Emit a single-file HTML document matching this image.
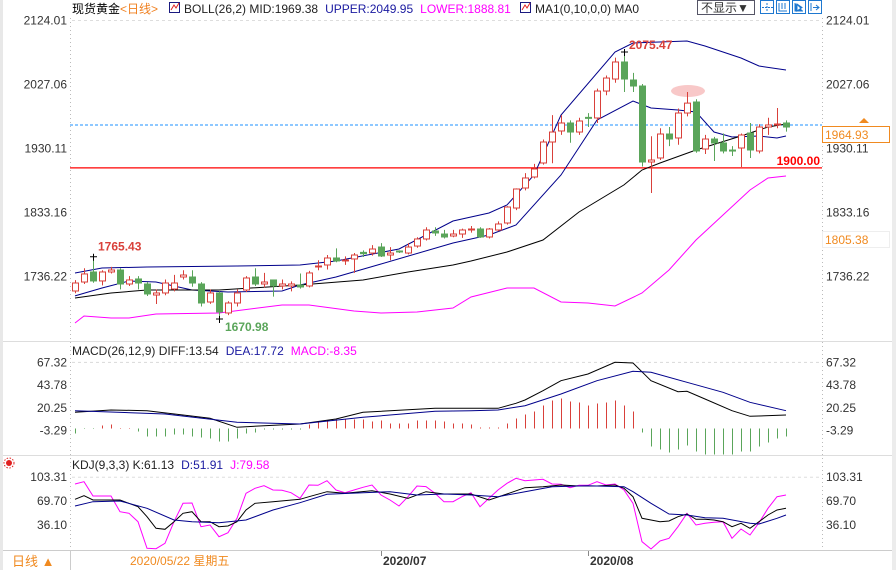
<!DOCTYPE html>
<html><head><meta charset="utf-8"><style>
html,body{margin:0;padding:0;background:#fff;}
svg{display:block;font-family:"Liberation Sans","Noto Sans CJK SC",sans-serif;}
</style></head><body>
<svg id="chart" width="896" height="570" viewBox="0 0 896 570" xmlns="http://www.w3.org/2000/svg">
<rect x="0" y="0" width="896" height="570" fill="#fff"/>
<rect x="0" y="0" width="3" height="570" fill="#e8e8e8"/>
<rect x="892" y="0" width="4" height="570" fill="#ececec"/>
<line x1="70.5" y1="18" x2="70.5" y2="550" stroke="#bbb" stroke-dasharray="1,3"/>
<line x1="822.5" y1="18" x2="822.5" y2="550" stroke="#bbb" stroke-dasharray="1,3"/>
<line x1="3" y1="341.5" x2="892" y2="341.5" stroke="#ddd"/>
<line x1="3" y1="455.5" x2="892" y2="455.5" stroke="#ddd"/>
<line x1="3" y1="550.5" x2="892" y2="550.5" stroke="#ccc"/>
<line x1="70.5" y1="550" x2="70.5" y2="570" stroke="#ccc"/>
<g id="grid"></g>
<g id="main"></g>
<g id="macd"></g>
<g id="kdj"></g>
<!-- title row -->
<text x="72" y="13" font-size="12"><tspan fill="#000">现货黄金</tspan><tspan fill="#f08020">&lt;日线&gt;</tspan></text>
<rect x="169.5" y="2.5" width="10" height="10" fill="#fff" stroke="#1a1a80"/>
<polyline points="171,10 174,5 176,8 179,3" fill="none" stroke="#e02020"/>
<text x="184" y="13" font-size="12"><tspan fill="#222">BOLL(26,2) MID:1969.38</tspan><tspan fill="#1a1aa0" dx="7">UPPER:2049.95</tspan><tspan fill="#ff00ff" dx="7">LOWER:1888.81</tspan></text>
<rect x="520.5" y="2.5" width="10" height="10" fill="#fff" stroke="#1a1a80"/>
<polyline points="522,10 525,5 527,8 530,3" fill="none" stroke="#e02020"/>
<text x="535" y="13" font-size="12" fill="#222">MA1(0,10,0,0) MA0</text>
<g><rect x="697.5" y="0.5" width="57" height="14" fill="#fff" stroke="#556"/><text x="701" y="12" font-size="12" fill="#333">不显示▼</text></g>
<g><rect x="760.5" y="0.5" width="13" height="13" fill="#fff" stroke="#1e78d0"/><path d="M767 3v9M762 7.5h11" stroke="#1e78d0" stroke-dasharray="2,1"/></g>
<g><rect x="776.5" y="0.5" width="13" height="13" fill="#fff" stroke="#1e78d0"/><path d="M779 3v8h8M782 3v6M785 3v6" stroke="#1e78d0" fill="none"/></g>
<g><rect x="792.5" y="0.5" width="13" height="13" fill="#fff" stroke="#1e78d0"/><path d="M795 3v8h8M797 4l5 3.5-5 3.5z" stroke="#1e78d0" fill="#1e78d0"/></g>
<g><rect x="808.5" y="0.5" width="13" height="13" fill="#fff" stroke="#1e78d0"/><path d="M811 3v8M813 7.5h6M816 5l3 2.5-3 2.5" stroke="#1e78d0" fill="none"/></g>
<!-- price tags -->
<rect x="822.5" y="126.5" width="67" height="16" fill="#fff" stroke="#f08a20"/>
<text x="825" y="139" font-size="12" fill="#f08a20">1964.93</text>
<path d="M859 123l5-5 5 5z" fill="#f08a20"/>
<rect x="822.5" y="231.5" width="67" height="16" fill="#fff" stroke="#eee"/>
<text x="825" y="244" font-size="12" fill="#f08a20">1805.38</text>
<!-- sub headers -->
<text x="72" y="355" font-size="12"><tspan fill="#222">MACD(26,12,9) DIFF:13.54</tspan><tspan fill="#1a1aa0" dx="7">DEA:17.72</tspan><tspan fill="#ff00ff" dx="7">MACD:-8.35</tspan></text>
<g><circle cx="9" cy="463" r="3" fill="#e02020"/><circle cx="9" cy="463" r="5" fill="none" stroke="#e02020" stroke-dasharray="1.5,1.5"/></g>
<text x="72" y="469" font-size="12"><tspan fill="#222">KDJ(9,3,3) K:61.13</tspan><tspan fill="#1a1aa0" dx="7">D:51.91</tspan><tspan fill="#ff00ff" dx="7">J:79.58</tspan></text>
<!-- bottom -->
<text x="12" y="566" font-size="13" fill="#f08a20">日线 ▲</text>
<text x="130" y="565" font-size="12" fill="#f08a20">2020/05/22 星期五</text>
<line x1="381.5" y1="551" x2="381.5" y2="556" stroke="#888"/>
<text x="383" y="565" font-size="12" font-weight="bold" fill="#333">2020/07</text>
<line x1="588.5" y1="551" x2="588.5" y2="556" stroke="#888"/>
<text x="590" y="565" font-size="12" font-weight="bold" fill="#333">2020/08</text>
</svg>
<script>
const priceTicks=[2124.01,2027.06,1930.11,1833.16,1736.22];
const macdTicks=[67.32,43.78,20.25,-3.29];
const kdjTicks=[103.31,69.70,36.10];
const opens=[1713.5,1727.1,1742.3,1728.7,1742.3,1745.3,1724.1,1731.7,1724.1,1707.4,1710.5,1716.5,1734.7,1734.7,1724.1,1696.8,1710.5,1680.2,1695.3,1715.0,1734.7,1724.1,1730.2,1721.1,1721.1,1722.6,1721.1,1749.9,1752.9,1763.5,1759.0,1762.0,1772.0,1771.0,1780.1,1768.0,1774.1,1771.0,1781.6,1792.3,1804.4,1799.8,1796.8,1799.8,1806.0,1807.4,1795.3,1805.9,1816.5,1839.2,1869.5,1886.2,1907.4,1939.2,1955.9,1968.0,1954.3,1976.5,1975.6,2016.4,2034.6,2060.4,2033.1,2024.0,1908.9,1915.0,1951.3,1945.3,1983.1,1999.8,1928.6,1943.7,1937.7,1927.0,1930.1,1952.8,1925.6,1961.9,1965.0,1968.0];
const closes=[1725.6,1739.3,1728.7,1742.3,1745.3,1724.1,1730.2,1725.6,1709.0,1710.5,1725.6,1725.6,1737.7,1725.6,1695.3,1710.5,1681.7,1695.3,1710.5,1733.2,1724.1,1727.1,1721.1,1724.1,1724.1,1719.6,1740.8,1751.4,1763.5,1759.0,1760.5,1768.0,1770.0,1777.1,1766.5,1771.0,1772.6,1780.1,1792.3,1805.9,1801.4,1795.3,1799.8,1805.9,1807.4,1795.3,1807.4,1815.0,1840.7,1868.0,1884.7,1898.3,1939.2,1954.3,1968.0,1954.3,1971.0,1975.6,2016.4,2036.1,2060.4,2034.6,2024.0,1908.9,1911.9,1951.3,1943.7,1983.1,1998.1,1925.6,1943.7,1937.7,1925.6,1925.6,1949.8,1927.1,1961.9,1965.0,1966.5,1961.9];
const highs=[1730,1748,1765.43,1745,1750,1748,1736,1736,1727,1716,1731,1738,1745,1745,1727,1716,1713,1698,1716,1736,1748,1741,1731,1731,1728,1740,1744,1760,1768,1778,1766,1771,1775,1783,1786,1780,1775,1786,1795,1810,1810,1806,1806,1808,1812,1810,1809,1819,1842,1869,1892,1906,1943,1980,1980,1972,1976,1983,2020,2040,2067,2075.47,2044,2027,1948,1960,1962,1990,2014.9,2004,1950,1947,1952,1933,1952,1968,1966,1976,1990.7,1972];
const lows=[1710,1724,1726,1722,1740,1716,1721,1716,1706,1693.8,1707,1713,1731,1720,1690,1694,1670.98,1677,1690,1712,1721,1719,1705,1716,1713,1717,1719,1745,1746,1757,1753,1741,1765,1767,1765,1760,1771,1769,1779,1790,1797,1793,1795,1794,1802,1794,1793,1804,1814,1836,1866,1884,1905,1907,1950,1938,1950,1962,1968,2010,2029,2015,2015,1902,1861.9,1912,1933,1935,1978,1923,1921,1910.4,1922,1918,1901.3,1915,1922,1950,1960,1955];
const upperIdx=[0,3,8,18,25,29,36,42,46,48,51,54,60,62,68,70,74,76,79];
const upperVal=[1740.8,1748.3,1749.9,1751.4,1752.9,1759.0,1777.1,1819.5,1831.6,1843.8,1889.2,1980.1,2075.5,2089.2,2092.2,2084.6,2066.4,2054.3,2048.3];
const midIdx=[0,3,6,9,13,17,23,25,29,34,42,46,49,54,58,62,64,67,69,71,73,76,78,79];
const midVal=[1706.0,1718.0,1728.6,1727.1,1715.0,1712.0,1713.5,1722.6,1734.7,1754.4,1786.2,1798.3,1813.5,1889.2,1972.5,2001.3,1990.7,1987.7,1984.6,1954.3,1946.8,1948.3,1945.3,1948.3];
const lowerIdx=[0,1,4,6,9,16,23,26,31,34,38,42,44,48,51,54,57,60,63,66,69,72,75,77,79];
const lowerVal=[1665.0,1675.6,1672.6,1672.6,1678.6,1680.2,1692.3,1692.3,1683.2,1680.2,1681.7,1687.7,1704.4,1718.0,1718.0,1696.8,1695.3,1690.8,1710.5,1745.3,1790.7,1828.6,1866.5,1884.7,1887.7];
const maIdx=[0,4,8,16,25,32,37,42,44,48,52,56,61,63,65,69,74,77,79];
const maVal=[1702.9,1710.5,1715.0,1715.0,1722.6,1730.2,1742.3,1752.9,1759.0,1772.6,1790.8,1833.2,1874.2,1896.8,1907.4,1927.1,1948.3,1961.9,1966.5];
const diffIdx=[0,4,8,12,15,18,21,25,29,32,40,44,47,49,50,52,54,57,60,62,64,67,68,70,73,75,79];
const diffVal=[15.6,17.9,17.2,12.8,9.4,0.2,1.8,3.6,8.7,15.6,19.7,19.7,19.7,24.8,28.2,37.7,48.0,54.9,66.9,66.2,48.0,36.7,37.1,29.2,17.2,11.5,12.8];
const deaIdx=[0,10,18,25,32,40,44,47,50,54,58,62,64,68,72,75,79];
const deaVal=[17.2,13.8,5.3,3.6,10.5,16.6,17.2,17.9,22.4,34.4,48.0,57.6,56.6,46.4,36.1,25.8,17.2];
const macdHist=[-5,-0.5,-0.5,3,4,0.5,0.5,-3,-8,-8,-8,-6,-6,-8,-9,-10,-13,-13,-10,-5,-4,-1,-1,-1,-1,-1,4,6,8,9,9,9,9,7,8,5,5,5,8,8,8,7,5,5,4,1,1,1,5,10,14,17,23,28,30,27,26,23,25,26,28,23,17,-4,-18,-21,-24,-21,-17,-23,-26,-26,-26,-26,-23,-23,-18,-14,-10,-8];
const jVal=[93.1,96.3,76.3,76.3,76.3,54.3,52.0,40.3,3.0,2.5,10.0,40.3,66.0,66.5,33.3,35.7,19.3,24.9,45.0,80.1,87.1,90.7,84.7,84.2,80.9,73.1,91.7,91.2,97.7,84.7,80.9,84.7,88.5,91.7,77.7,70.7,62.3,75.3,90.3,89.5,80.1,68.3,68.3,75.3,80.9,61.3,73.1,84.7,94.1,101.1,97.7,98.7,99.7,93.1,92.6,87.9,91.2,91.2,96.3,91.7,93.1,84.7,66.0,12.3,2.0,13.2,17.0,33.3,52.0,35.7,38.0,39.4,40.3,17.0,30.1,21.7,38.9,59.1,75.3,77.7];
const kIdx=[0,1,2,5,7,8,9,10,11,12,13,14,15,16,17,18,19,20,22,25,26,28,30,33,35,37,39,41,44,46,48,50,52,54,56,58,60,61,62,63,64,65,66,67,68,69,70,71,72,73,74,75,76,77,78,79];
const kVal=[71.7,76.7,70.7,70.7,61.3,47.3,31.0,29.6,40.3,52.0,54.3,40.3,40.3,33.3,34.3,40.3,56.7,66.0,68.3,71.7,75.3,82.3,80.1,83.7,79.1,73.1,82.3,79.1,79.1,70.7,79.1,87.9,89.3,91.7,90.3,90.3,91.7,87.1,75.3,45.0,42.7,40.3,41.3,47.3,51.1,43.6,43.6,42.7,40.3,33.3,38.0,31.0,40.3,49.7,56.7,59.1];
const dIdx=[0,2,5,8,11,13,16,19,22,25,28,32,35,38,41,44,47,50,53,57,61,62,64,66,68,70,72,75,76,78,79];
const dVal=[62.3,68.3,69.3,59.1,42.7,40.3,38.9,42.7,56.7,66.9,78.7,80.9,82.3,77.7,79.1,77.7,75.3,82.3,89.3,90.7,89.3,82.3,66.0,51.1,49.7,45.9,45.0,38.0,37.1,45.0,49.7];

const NS="http://www.w3.org/2000/svg";
function mk(parent,tag,attrs){const e=document.createElementNS(NS,tag);for(const k in attrs)e.setAttribute(k,attrs[k]);parent.appendChild(e);return e;}
const xS=i=>75+9*i;
const yP=p=>20+(2124.01-p)*0.66013;
const yM=v=>428.5-v*0.975;
const yMt=v=>430-(v+3.29)*0.9646;
const yK=v=>476.7+(103.31-v)*0.714;

const grid=document.getElementById('grid');
function tickLabels(ticks,yf,prefix){
  ticks.forEach((t,n)=>{
    const y=yf(t);
    const l=mk(grid,'text',{x:67,y:y+4.5,'font-size':12,fill:'#333','text-anchor':'end'});
    l.textContent=t.toFixed(2);
    
    
    const r=mk(grid,'text',{x:826,y:y+4.5,'font-size':12,fill:'#333'});
    r.textContent=t.toFixed(2);
    
    
    if(n===0){
      const g=mk(grid,'line',{x1:72,x2:820,y1:y+0.5,y2:y+0.5,stroke:'#ddd','stroke-dasharray':'3,3'});
      
      
    }
  });
}
tickLabels(priceTicks,yP,'price');
tickLabels(macdTicks,yMt,'macd');
tickLabels(kdjTicks,yK,'kdj');

function line(g,idx,vals,yf,color,name){
  const pts=idx.map((i,n)=>xS(i)+','+yf(vals[n]).toFixed(1)).join(' ');
  const pl=mk(g,'polyline',{points:pts,fill:'none',stroke:color,'stroke-width':1});
  
  
}
const main=document.getElementById('main');
// reference lines
const cur=mk(main,'line',{x1:70,x2:822,y1:yP(1964.93),y2:yP(1964.93),stroke:'#1e90ff','stroke-dasharray':'3,2'});


const sup=mk(main,'line',{x1:70,x2:822,y1:yP(1900),y2:yP(1900),stroke:'#ff0000','stroke-width':1.2});


const supT=mk(main,'text',{x:820,y:yP(1900)-3,'font-size':12,'font-weight':'bold',fill:'#ff0000','text-anchor':'end'});
supT.textContent='1900.00';


const ell=mk(main,'ellipse',{cx:688,cy:91,rx:17,ry:6,fill:'#f8c8c8'});



line(main,upperIdx,upperVal,yP,'#00008b','boll-upper-line');
line(main,midIdx,midVal,yP,'#00008b','boll-mid-line');
line(main,lowerIdx,lowerVal,yP,'#ff00ff','boll-lower-line');
line(main,maIdx,maVal,yP,'#000','ma-line');

opens.forEach((o,i)=>{
  const c=closes[i],up=c>=o,col=up?'#d9403a':'#5aa55a';
  const x=xS(i);
  const w=mk(main,'line',{x1:x+0.5,x2:x+0.5,y1:yP(highs[i]),y2:yP(lows[i]),stroke:col});
  
  
  const top=yP(Math.max(o,c)),bot=yP(Math.min(o,c));
  const b=mk(main,'rect',{x:x-2.5,y:top,width:6,height:Math.max(1,bot-top),fill:up?'#fff':col,stroke:col});
  
  
});
// extremes
function ann(txt,x,y,col,name){const t=mk(main,'text',{x:x,y:y,'font-size':12,'font-weight':'bold',fill:col});t.textContent=txt;}
const hiI=highs.indexOf(Math.max(...highs));
ann('2075.47',xS(hiI)+5,yP(highs[hiI])-3,'#d9403a','high-annotation');
ann('1765.43',xS(2)+5,yP(1765.43)-6,'#d9403a','local-high-annotation');
const loI=lows.indexOf(Math.min(...lows));
ann('1670.98',xS(loI)+6,yP(lows[loI])+12,'#5aa55a','low-annotation');
[[hiI,highs[hiI]],[2,1765.43],[loI,lows[loI]]].forEach(([i,p])=>{
  const m=mk(main,'path',{d:`M${xS(i)-3} ${yP(p)}h7M${xS(i)+0.5} ${yP(p)-3}v7`,stroke:'#000'});
  
  
});

const macd=document.getElementById('macd');
const gm=mk(macd,'line',{x1:72,x2:820,y1:362.5,y2:362.5,stroke:'#ddd','stroke-dasharray':'3,3'});


macdHist.forEach((h,i)=>{
  const b=mk(macd,'line',{x1:xS(i)+0.5,x2:xS(i)+0.5,y1:yM(0),y2:yM(0)-h,stroke:h>=0?'#d9403a':'#5aa55a'});
  
  
});
line(macd,diffIdx,diffVal,v=>yM(v)-1,'#000','diff-line');
line(macd,deaIdx,deaVal,v=>yM(v)-1,'#00008b','dea-line');

const kdj=document.getElementById('kdj');
line(kdj,jVal.map((v,i)=>i),jVal,yK,'#ff00ff','j-line');
line(kdj,kIdx,kVal,yK,'#000','k-line');
line(kdj,dIdx,dVal,yK,'#00008b','d-line');
</script>
</body></html>
